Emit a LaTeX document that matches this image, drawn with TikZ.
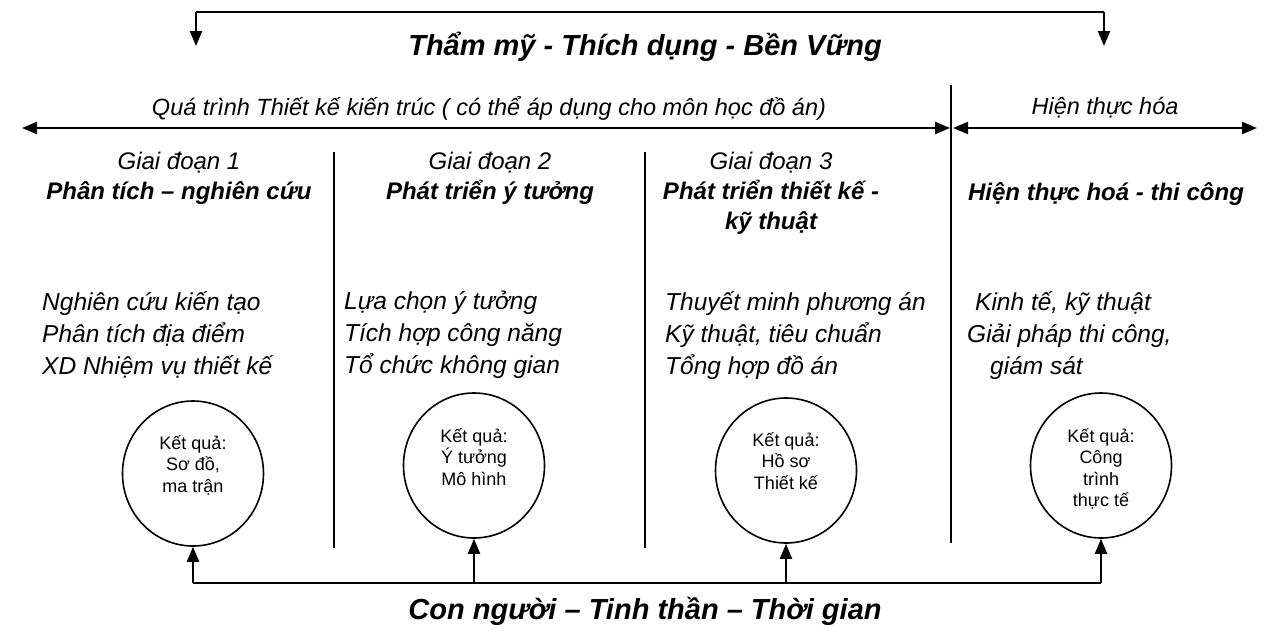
\documentclass[tikz,border=0pt]{standalone}
\usepackage{fontspec}
\setmainfont{Liberation Sans}
\usetikzlibrary{arrows.meta,shapes.geometric}
\tikzset{
  tip/.tip={Triangle[width=12pt,length=15pt]},
  conn/.style={line width=2pt,-tip},
  biarr/.style={line width=2pt,tip-tip},
  divider/.style={line width=1.5pt},
  bigtitle/.style={font=\fontsize{29}{33}\selectfont\bfseries\itshape,inner sep=0pt},
  subtitle/.style={font=\fontsize{23.5}{28}\selectfont\itshape,inner sep=0pt},
  stagehead/.style={font=\fontsize{24}{30}\selectfont\itshape,inner sep=0pt,align=center,anchor=north},
  listtext/.style={font=\fontsize{24.5}{32}\selectfont\itshape,inner sep=0pt,align=left,anchor=north west},
  resultcircle/.style={draw,ellipse,line width=1.6pt,minimum width=141pt,minimum height=145pt,inner sep=0pt},
  resulttext/.style={font=\fontsize{18}{21.5}\selectfont,inner sep=0pt,align=center,anchor=north}
}
\begin{document}
\begin{tikzpicture}[x=1pt,y=-1pt]
\useasboundingbox (0,0) rectangle (1268,632);
% top bracket
\coordinate (tl) at (196,12);
\coordinate (tr) at (1104,12);
\coordinate (ta1) at (196,46);
\coordinate (ta2) at (1104,46);
\draw[line width=2pt] (tl) -- (tr);
\draw[conn] (tl) -- (ta1);
\draw[conn] (tr) -- (ta2);
\node[bigtitle] (title) at (645,47) {Thẩm mỹ - Thích dụng - Bền Vững};
% process arrows
\node[subtitle] (proc) at (489,108) {Quá trình Thiết kế kiến trúc ( có thể áp dụng cho môn học đồ án)};
\node[subtitle] (real) at (1105,108) {Hiện thực hóa};
\coordinate (pl) at (22,128);
\coordinate (pr) at (950,128);
\coordinate (ql) at (953,128);
\coordinate (qr) at (1257,128);
\draw[biarr] (pl) -- (pr);
\draw[biarr] (ql) -- (qr);
% dividers
\coordinate (d1t) at (334,152); \coordinate (d1b) at (334,548);
\coordinate (d2t) at (645,152); \coordinate (d2b) at (645,548);
\coordinate (d3t) at (951,85);  \coordinate (d3b) at (951,543);
\draw[divider] (d1t) -- (d1b);
\draw[divider] (d2t) -- (d2b);
\draw[divider] (d3t) -- (d3b);
% stage headers
\node[stagehead] (s1) at (179,152) {Giai đoạn 1\\\textbf{Phân tích – nghiên cứu}};
\node[stagehead] (s2) at (490,152) {Giai đoạn 2\\\textbf{Phát triển ý tưởng}};
\node[stagehead] (s3) at (771,152) {Giai đoạn 3\\\textbf{Phát triển thiết kế -}\\\textbf{kỹ thuật}};
\node[stagehead] (s4) at (1106,182) {\textbf{Hiện thực hoá - thi công}};
% lists
\node[listtext] (l1) at (42,291) {Nghiên cứu kiến tạo\\Phân tích địa điểm\\XD Nhiệm vụ thiết kế};
\node[listtext] (l2) at (344,291) {Lựa chọn ý tưởng\\Tích hợp công năng\\Tổ chức không gian};
\node[listtext] (l3) at (665,291) {Thuyết minh phương án\\Kỹ thuật, tiêu chuẩn\\Tổng hợp đồ án};
\node[listtext] (l4) at (967,291) {\hspace*{8pt}Kinh tế, kỹ thuật\\Giải pháp thi công,\\\hspace*{23pt}giám sát};
% result circles
\node[resultcircle] (c1) at (193,473.5) {};
\node[resultcircle] (c2) at (474,465.5) {};
\node[resultcircle] (c3) at (786,470.5) {};
\node[resultcircle] (c4) at (1101,465.5) {};
\node[resulttext] (t1) at (193,435) {Kết quả:\\Sơ đồ,\\ma trận};
\node[resulttext] (t2) at (474,428) {Kết quả:\\Ý tưởng\\Mô hình};
\node[resulttext] (t3) at (786,432) {Kết quả:\\Hồ sơ\\Thiết kế};
\node[resulttext] (t4) at (1101,428) {Kết quả:\\Công\\trình\\thực tế};
% bottom connectors
\coordinate (b1) at (193,583);
\coordinate (b2) at (474,583);
\coordinate (b3) at (786,583);
\coordinate (b4) at (1101,583);
\draw[line width=2pt] (b1) -- (b4);
\draw[conn] (b1) -- (c1.south);
\draw[conn] (b2) -- (c2.south);
\draw[conn] (b3) -- (c3.south);
\draw[conn] (b4) -- (c4.south);
\node[bigtitle] (bottom) at (645,611) {Con người – Tinh thần – Thời gian};
\end{tikzpicture}
\end{document}
